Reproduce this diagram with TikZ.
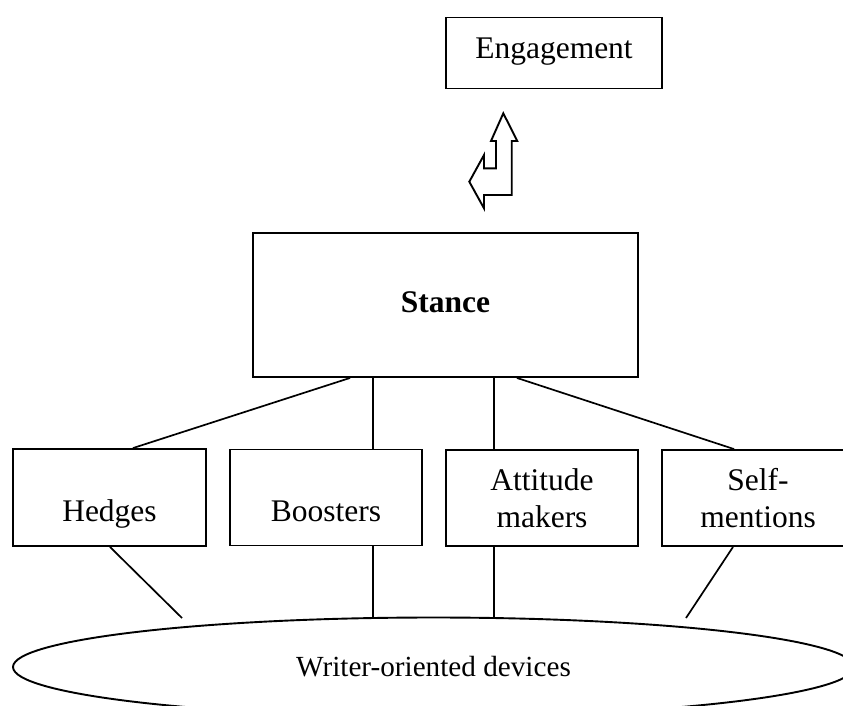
\documentclass[tikz,border=0pt]{standalone}
\usepackage{fontspec}
\setmainfont{Liberation Serif}
\usetikzlibrary{shapes.geometric}
\begin{document}
\begin{tikzpicture}[x=1pt, y=-1pt, line width=1.9pt,
  box/.style={draw, rectangle, inner sep=0pt, align=center,
              font=\fontsize{31.5}{37}\selectfont},
  smallbox/.style={box, minimum width=192pt, minimum height=96pt},
  link/.style={draw, line width=1.7pt}]
\useasboundingbox (0,0) rectangle (843,705);
\clip (0,0) rectangle (843,705);

% top box
\node[box, minimum width=216pt, minimum height=71pt,
      text height=22pt, text depth=12pt] (eng) at (554,53) {Engagement};

% up/left two-way arrow between Engagement and Stance
\draw[line join=miter] (503.3,113.3) -- (517.3,141) -- (511.7,141) -- (511.7,195)
  -- (484,195) -- (484,208.3) -- (469.3,181.7) -- (484,155) -- (484,168.3)
  -- (496,168.3) -- (496,141) -- (491,141) -- cycle;

% central box
\node[box, minimum width=385pt, minimum height=144pt,
      font=\fontsize{31.5}{37}\selectfont\bfseries,
      text height=21pt, text depth=7pt] (stance) at (445.5,305) {Stance};

% the four device categories
\node[smallbox, minimum width=193pt, minimum height=97pt,
      text height=47pt, text depth=0pt] (hedges) at (109.5,497.5) {Hedges};
\node[smallbox, text height=47pt, text depth=0pt] (boosters) at (326,497.5) {Boosters};
\node[smallbox] (attitude) at (542,498) {Attitude\\makers};
\node[smallbox] (self) at (758,498) {Self-\\mentions};

% bottom ellipse
\node[draw, ellipse, minimum width=841pt, minimum height=99pt, inner sep=0pt,
      font=\fontsize{29.2}{34}\selectfont] (dev) at (433.5,667) {Writer-oriented devices};

% Stance to categories
\draw[link] ([xshift=-95.5pt]stance.south) -- ([xshift=23.5pt]hedges.north);
\draw[link] ([xshift=-72.5pt]stance.south) -- ([xshift=47pt]boosters.north);
\draw[link] ([xshift=48.5pt]stance.south) -- ([xshift=-48pt]attitude.north);
\draw[link] ([xshift=71.5pt]stance.south) -- ([xshift=-24pt]self.north);

% categories to the ellipse
\coordinate (hend) at (182,618);
\coordinate (send) at (686,618);
\coordinate (bfoot) at ([xshift=47pt]boosters.south);
\coordinate (afoot) at ([xshift=-48pt]attitude.south);
\draw[link] ([xshift=0.5pt]hedges.south) -- (hend);
\draw[link] (bfoot) -- (bfoot |- dev.north);
\draw[link] (afoot) -- (afoot |- dev.north);
\draw[link] ([xshift=-25pt]self.south) -- (send);
\end{tikzpicture}
\end{document}
